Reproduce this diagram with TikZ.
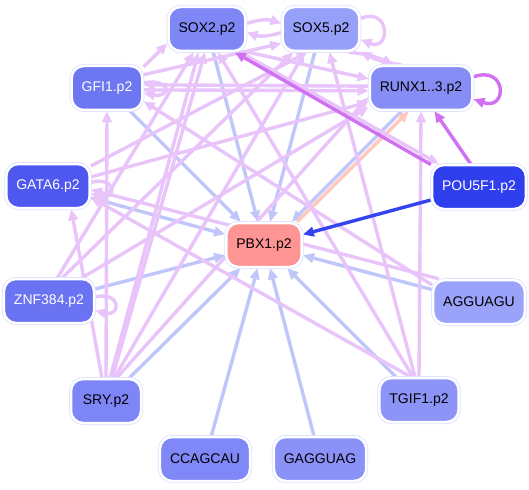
\documentclass[tikz,border=0pt]{standalone}
\usepackage{fontspec}
\setmainfont{Liberation Sans}
\usetikzlibrary{arrows.meta,backgrounds}
\definecolor{ring}{HTML}{DCDFFF}
\definecolor{cSOXii}{HTML}{7F87F6}
\definecolor{cSOXv}{HTML}{97A0F8}
\definecolor{cRUNX}{HTML}{868EF6}
\definecolor{cGFI}{HTML}{6E77F2}
\definecolor{cGATA}{HTML}{4E58EF}
\definecolor{cPOU}{HTML}{2F3FEE}
\definecolor{cPBX}{HTML}{FF9494}
\definecolor{cZNF}{HTML}{6A73F1}
\definecolor{cAGGU}{HTML}{9AA2F9}
\definecolor{cSRY}{HTML}{7E86F7}
\definecolor{cTGIF}{HTML}{8C94F8}
\definecolor{cCCAG}{HTML}{8088F7}
\definecolor{cGAGG}{HTML}{8A92F8}
\definecolor{ePink}{HTML}{E8C4FA}
\definecolor{eBlue}{HTML}{C0C6FA}
\definecolor{eDarkPurple}{HTML}{D070F2}
\definecolor{eDarkBlue}{HTML}{3344EE}
\definecolor{eSalmon}{HTML}{FFC8BC}
\begin{document}
\begin{tikzpicture}[x=1pt,y=-1pt,
  nd/.style={rounded corners=12pt, minimum width=70pt, minimum height=44pt,
    inner xsep=10pt, font=\fontsize{14}{16}\selectfont,
    draw=white, line width=2.5pt, preaction={draw=ring, line width=4pt}},
  wtext/.style={text=white},
  ebase/.style={line width=3.4pt, -{Triangle[length=11pt,width=9.5pt]}},
  pinkE/.style={ebase, draw=ePink},
  blueE/.style={ebase, draw=eBlue},
  dpurpleE/.style={ebase, draw=eDarkPurple},
  dblueE/.style={ebase, draw=eDarkBlue},
  salmonE/.style={ebase, draw=eSalmon}]
\useasboundingbox (0,0) rectangle (529,489);
% nodes
\node[nd, fill=cSOXii] (sox2) at (207,29) {SOX2.p2};
\node[nd, fill=cSOXv] (sox5) at (321,29) {SOX5.p2};
\node[nd, fill=cGFI, wtext] (gfi) at (107,88) {GFI1.p2};
\node[nd, fill=cRUNX] (runx) at (421,88) {RUNX1..3.p2};
\node[nd, fill=cGATA, wtext] (gata) at (48,186) {GATA6.p2};
\node[nd, fill=cPOU, wtext] (pou) at (479,187) {POU5F1.p2};
\node[nd, fill=cPBX] (pbx) at (264,245) {PBX1.p2};
\node[nd, fill=cZNF, wtext] (znf) at (49,301) {ZNF384.p2};
\node[nd, fill=cAGGU] (aggu) at (479,302) {AGGUAGU};
\node[nd, fill=cSRY] (sry) at (106,401) {SRY.p2};
\node[nd, fill=cTGIF] (tgif) at (419,400) {TGIF1.p2};
\node[nd, fill=cCCAG] (ccag) at (205,459) {CCAGCAU};
\node[nd, fill=cGAGG] (gagg) at (320,459) {GAGGUAG};
\begin{pgfonlayer}{background}
\fill[white] (0,0) rectangle (529,489);
% edges into PBX1
\draw[blueE] (sox2.-75) -- (pbx);
\draw[blueE] (sox5.-105) -- (pbx);
\draw[blueE] (gfi) -- (pbx);
\draw[blueE] (gata) -- (pbx);
\draw[blueE] (znf) -- (pbx);
\draw[blueE] (aggu) -- (pbx);
\draw[blueE] (sry) -- (pbx);
\draw[blueE] (tgif) -- (pbx);
\draw[blueE] (ccag) -- (pbx);
\draw[blueE] (gagg) -- (pbx);
\draw[blueE] (runx.-130) -- (pbx.40);
\draw[salmonE] (pbx.35) -- (runx.-118);
% pink TF edges
\draw[pinkE] (sox2.8) to[bend left=18] (sox5.172);
\draw[pinkE] (sox5.185) to[bend left=18] (sox2.-5);
\draw[pinkE] (sox5.15) .. controls +(30,-12) and +(30,12) .. (sox5.-15);
\draw[pinkE] (sox5.-40) to[bend left=10] (runx.140);
\draw[pinkE] (runx.130) to[bend left=10] (sox5.-30);
\draw[pinkE] (sox2.-30) -- (runx.170);
\draw[pinkE] (sox2.-35) -- (pou.150);
\draw[pinkE] (gfi.30) -- (sox2.200);
\draw[pinkE] (gfi.20) -- (sox5.200);
\draw[pinkE] (gfi.-3) -- (runx.183);
\draw[pinkE] (runx.178) -- (gfi.5);
\draw[pinkE] (gfi.8) .. controls +(28,-5) and +(28,5) .. (gfi.-8);
\draw[pinkE] (gata.25) -- (sox5.-120);
\draw[pinkE] (gata.12) -- (runx.-165);
\draw[pinkE] (gata.5) .. controls +(26,-6) and +(26,6) .. (gata.-10);
\draw[pinkE] (aggu.150) -- (gata.-5);
\draw[pinkE] (aggu.160) -- (gfi.-20);
\draw[pinkE] (znf.70) -- (sox2.-120);
\draw[pinkE] (znf.60) -- (sox5.-140);
\draw[pinkE] (znf.35) -- (runx.-160);
\draw[pinkE] (znf.5) .. controls +(26,-6) and +(26,6) .. (znf.-12);
\draw[pinkE] (sry.90) -- (gfi.-90);
\draw[pinkE] (sry.100) -- (gata.-45);
\draw[pinkE] (sry.80) -- (sox2.-110);
\draw[pinkE] (sry.75) -- (sox2.-95);
\draw[pinkE] (sry.70) -- (sox5.-125);
\draw[pinkE] (sry.65) -- (runx.-170);
\draw[pinkE] (tgif.90) -- (runx.-90);
\draw[pinkE] (tgif.100) -- (sox5.-70);
\draw[pinkE] (tgif.105) -- (sox2.-65);
\draw[pinkE] (tgif.110) -- (gata.-15);
% POU5F1 edges
\draw[dpurpleE] (pou.155) -- (sox2.-40);
\draw[dpurpleE] (pou.110) -- (runx.-60);
\draw[dblueE] (pou) -- (pbx);
\draw[dpurpleE] (runx.12) .. controls +(34,-12) and +(34,12) .. (runx.-12);
\end{pgfonlayer}
\end{tikzpicture}
\end{document}
